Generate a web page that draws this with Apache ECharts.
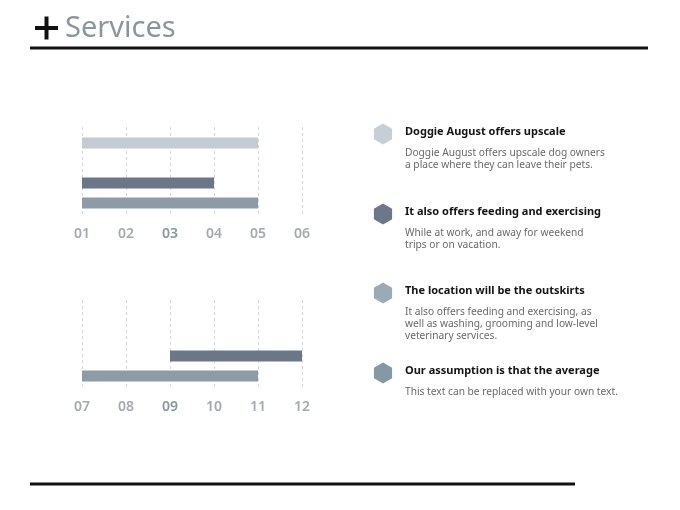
<!DOCTYPE html>
<html>
<head>
<meta charset="utf-8">
<script src="https://cdn.jsdelivr.net/npm/echarts@6/dist/echarts.min.js"></script>
<style>
  html, body { margin: 0; padding: 0; background: #fff; }
  #panel { width: 680px; height: 510px; }
</style>
</head>
<body>
<div id="panel"></div>
<script>
// row slots (0 = top), start and end of each bar
var barRows = [0, 2, 3];
var barColors = ['#c3cbd3', '#6b7689', '#8c9ba6'];
var topStart = [1, 1, 1];
var topEnd = [5, 4, 5];
var bottomStart = [null, 9, 7];
var bottomEnd = [null, 12, 11];

var headings = [
    'Doggie August offers upscale',
    'It also offers feeding and exercising',
    'The location will be the outskirts',
    'Our assumption is that the average'
];
var bodies = [
    'Doggie August offers upscale dog owners\na place where they can leave their pets.',
    'While at work, and away for weekend\ntrips or on vacation.',
    'It also offers feeding and exercising, as\nwell as washing, grooming and low-level\nveterinary services.',
    'This text can be replaced with your own text.'
];
var hexColors = ['#c6cfd7', '#6b778a', '#9aabb6', '#8498a5'];

var myChart;

function buildData(starts, ends)
{
    var out = [];
    for (var i = 0; i < barRows.length; i++)
    {
        if (starts[i] == null) continue;
        out.push([barRows[i], starts[i], ends[i], i]);
    }
    return out;
}

function renderBar(params, api)
{
    var row = api.value(0);
    var s = api.coord([api.value(1), row]);
    var e = api.coord([api.value(2), row]);
    var h = 11;
    return {
        type: 'rect',
        shape: { x: s[0], y: s[1] - h / 2, width: e[0] - s[0], height: h },
        style: { fill: barColors[api.value(3)] }
    };
}

function xAxisFor(idx, min, max)
{
    return {
        type: 'value',
        gridIndex: idx,
        min: min,
        max: max,
        interval: 1,
        axisLine: { show: false },
        axisTick: { show: false },
        splitLine: { show: true, lineStyle: { color: '#d4d8dc', type: [3, 3], width: 1 } },
        axisLabel: {
            margin: 10,
            formatter: function (v)
            {
                var t = (v < 10 ? '0' : '') + v;
                return (v - min) == 2 ? '{hi|' + t + '}' : '{n|' + t + '}';
            },
            rich: {
                n: { color: '#a2aab2', fontSize: 14, fontWeight: 600, fontFamily: 'Noto Sans' },
                hi: { color: '#8996a1', fontSize: 14, fontWeight: 600, fontFamily: 'Noto Sans' }
            }
        }
    };
}

function yAxisFor(idx)
{
    return {
        type: 'value',
        gridIndex: idx,
        min: -0.8,
        max: 3.7,
        inverse: true,
        show: false
    };
}

function hexagon(cx, cy, r, color)
{
    var pts = [];
    for (var k = 0; k < 6; k++)
    {
        var a = Math.PI / 180 * (60 * k - 90);
        pts.push([cx + r * Math.cos(a), cy + r * Math.sin(a)]);
    }
    return { type: 'polygon', shape: { points: pts }, style: { fill: color } };
}

function buildGraphics()
{
    var g = [
        // title
        { type: 'rect', shape: { x: 35, y: 26, width: 23, height: 4 }, style: { fill: '#111' } },
        { type: 'rect', shape: { x: 44.5, y: 16.5, width: 4, height: 23 }, style: { fill: '#111' } },
        { type: 'text', x: 65, y: 29, style: { text: 'Services', font: '29px "Noto Sans"', fill: '#8a969e', verticalAlign: 'middle' } },
        { type: 'rect', shape: { x: 30, y: 46.5, width: 618, height: 3 }, style: { fill: '#111' } },
        { type: 'rect', shape: { x: 30, y: 482.5, width: 545, height: 3 }, style: { fill: '#111' } }
    ];
    var headY = [132, 212, 291, 371];
    for (var i = 0; i < headings.length; i++)
    {
        g.push(hexagon(383, headY[i] + 2, 10.5, hexColors[i]));
        g.push({ type: 'text', x: 405, y: headY[i], style: {
            text: headings[i], font: 'bold 11px "Noto Sans"', fill: '#151515', verticalAlign: 'middle' } });
        g.push({ type: 'text', x: 405, y: headY[i] + 15, style: {
            text: bodies[i], font: '10.2px "Noto Sans"', fill: '#6a6a6a', lineHeight: 12, verticalAlign: 'top' } });
    }
    return g;
}

myChart = echarts.init(document.getElementById('panel'));
myChart.setOption({
    backgroundColor: '#fff',
    animation: false,
    grid: [
        { left: 82, right: 378, top: 127, height: 90 },
        { left: 82, right: 378, top: 300, height: 90 }
    ],
    xAxis: [xAxisFor(0, 1, 6), xAxisFor(1, 7, 12)],
    yAxis: [yAxisFor(0), yAxisFor(1)],
    series: [
        { type: 'custom', xAxisIndex: 0, yAxisIndex: 0, encode: { x: [1, 2], y: 0 },
          renderItem: renderBar, data: buildData(topStart, topEnd) },
        { type: 'custom', xAxisIndex: 1, yAxisIndex: 1, encode: { x: [1, 2], y: 0 },
          renderItem: renderBar, data: buildData(bottomStart, bottomEnd) }
    ],
    graphic: buildGraphics()
});
</script>
</body>
</html>
